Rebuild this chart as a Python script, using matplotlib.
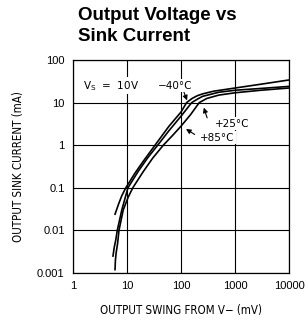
"""
Output Voltage vs Sink Current - grafik log-log tiga suhu.
"""

import matplotlib
matplotlib.use('Agg')
import matplotlib.pyplot as plt

# Data (mV, mA)
swing_m40 = [6.0, 7.0, 8.0, 9.5, 14, 20, 33, 60, 100, 127, 160, 200, 250, 400, 1000, 3000, 10000]
sink_m40 = [0.024, 0.042, 0.065, 0.1, 0.22, 0.42, 1.0, 2.8, 6.0, 10, 12.5, 14.5, 16, 18.5, 22, 27, 34]

swing_25 = [5.5, 5.8, 6.2, 6.6, 8.0, 10.4, 16, 24, 37, 60, 100, 158, 200, 250, 500, 1000, 3000, 10000]
sink_25 = [0.0025, 0.004, 0.006, 0.01, 0.03, 0.1, 0.24, 0.5, 1.0, 2.2, 4.8, 10, 12, 14, 17.5, 19.5, 21.5, 24]

swing_85 = [6.0, 6.1, 6.3, 6.7, 7.1, 8.5, 10.5, 12.8, 20, 30, 47, 70, 100, 150, 218, 300, 500, 1000, 3000, 10000]
sink_85 = [0.0012, 0.002, 0.003, 0.005, 0.01, 0.03, 0.06, 0.1, 0.24, 0.5, 1.0, 1.7, 2.8, 5.2, 10, 12.5, 15, 17, 19.5, 22]

x_ticks = [1, 10, 100, 1000, 10000]
x_labels = ['1', '10', '100', '1000', '10000']
y_ticks = [0.001, 0.01, 0.1, 1, 10, 100]
y_labels = ['0.001', '0.01', '0.1', '1', '10', '100']

plt.rcParams['font.family'] = ['Liberation Sans', 'DejaVu Sans']

fig = plt.figure(figsize=(3.06, 3.27), dpi=100)
ax = fig.add_axes([0.2386, 0.1651, 0.7058, 0.6514])

ax.set_xscale('log')
ax.set_yscale('log')
ax.set_xlim(1, 10000)
ax.set_ylim(0.001, 100)

# Grid hanya pada dekade
ax.set_xticks(x_ticks)
ax.set_xticklabels(x_labels, fontsize=8)
ax.set_yticks(y_ticks)
ax.set_yticklabels(y_labels, fontsize=8)
ax.minorticks_off()
ax.tick_params(length=0)
ax.tick_params(axis='x', pad=6)
ax.tick_params(axis='y', pad=6)
ax.grid(True, color='black', linewidth=0.8)
for s in ax.spines.values():
    s.set_linewidth(0.9)

for xs, ys in [(swing_m40, sink_m40), (swing_25, sink_25), (swing_85, sink_85)]:
    ax.plot(xs, ys, color='black', linewidth=1.2, zorder=3)

lab = dict(fontsize=8.3, family='DejaVu Sans', stretch='condensed')
ax.set_xlabel('OUTPUT SWING FROM V\u2212 (mV)', labelpad=9, **lab)
ax.set_ylabel('OUTPUT SINK CURRENT (mA)', labelpad=9, **lab)

box = dict(facecolor='white', edgecolor='none', pad=1)
txt = dict(fontsize=7.5, family='DejaVu Sans', va='center', ha='left', bbox=box, zorder=4)
ax.text(1.5, 25, r'V$_\mathregular{S}$  =  10V', **txt)
ax.text(38, 25, '\u221240\u00b0C', **txt)
ax.text(430, 3.2, '+25\u00b0C', **txt)
ax.text(225, 1.5, '+85\u00b0C', **txt)

arrow = dict(arrowstyle='-|>', color='black', linewidth=0.8, mutation_scale=7)
ax.annotate('', xy=(135, 9.8), xytext=(109, 20), arrowprops=arrow, zorder=5)
ax.annotate('', xy=(255, 8.8), xytext=(316, 3.8), arrowprops=arrow, zorder=5)
ax.annotate('', xy=(112, 2.6), xytext=(198, 1.65), arrowprops=arrow, zorder=5)

fig.text(0.255, 0.978, 'Output Voltage vs\nSink Current', fontsize=13.5,
         fontweight='bold', va='top', ha='left', linespacing=1.3)

fig.savefig('out.png', dpi=100)
